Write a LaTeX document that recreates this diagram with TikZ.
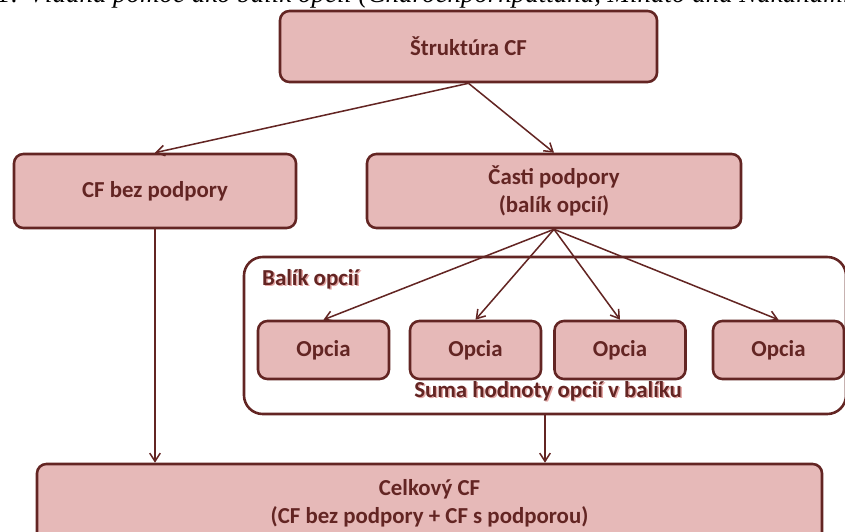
\documentclass[tikz,border=0pt]{standalone}
\usepackage{fontspec}
\setmainfont{Carlito}
\newfontfamily\capfont{Liberation Serif}
\usetikzlibrary{arrows.meta}
\definecolor{boxfill}{HTML}{E6B9B8}
\definecolor{boxline}{HTML}{632523}
\definecolor{glow}{HTML}{E3A6A4}
\tikzset{
    box/.style={draw=boxline, fill=boxfill, line width=2.2pt, rounded corners=8pt,
        text=boxline, font=\fontsize{19.5}{24}\selectfont\bfseries, align=center, inner sep=0pt},
    group/.style={draw=boxline, fill=white, line width=2.2pt, rounded corners=16pt, inner sep=0pt},
    grouptext/.style={text=boxline, font=\fontsize{19.5}{22}\selectfont\bfseries, inner sep=0pt},
    groupglow/.style={grouptext, text=glow},
    arr/.style={draw=boxline, line width=1.3pt, -{Straight Barb[length=7pt,width=9pt]}}
}
\begin{document}
\begin{tikzpicture}[x=0.03cm, y=-0.03cm]
    \useasboundingbox (0,0) rectangle (845,531);
    \clip (0,0) rectangle (845,531);

    \node[anchor=base west, inner sep=0pt, font=\capfont\fontsize{23}{28}\selectfont\itshape] (cap) at (-3,3)
        {1: Vládna pomoc ako balík opcií (Charoenpornpattana, Minato and Nakanami, 2005)};

    \node[box, minimum width=11.31cm, minimum height=2.13cm] (A1) at (468.5,46.5) {Štruktúra CF};

    \node[box, minimum width=8.46cm, minimum height=2.22cm] (B1) at (155,191) {CF bez podpory};
    \node[box, minimum width=11.22cm, minimum height=2.22cm] (C1) at (554,191) {Časti podpory\\(balík opcií)};
    \draw[arr] (A1.south) -- (B1.north);
    \draw[arr] (A1.south) -- (C1.north);

    \node[group, minimum width=18.06cm, minimum height=4.71cm] (P) at (545,335.5) {};
    \node[groupglow, anchor=west] (Pg) at (263.5,280.5) {Balík opcií};
    \node[grouptext, anchor=west] (Pt) at (262,279) {Balík opcií};
    \node[box, minimum width=3.93cm, minimum height=1.74cm] (P1) at (323.5,350) {Opcia};
    \node[box, minimum width=3.93cm, minimum height=1.74cm] (P2) at (475.5,350) {Opcia};
    \node[box, minimum width=3.93cm, minimum height=1.74cm] (P3) at (620,350) {Opcia};
    \node[box, minimum width=3.93cm, minimum height=1.74cm] (P4) at (778.5,350) {Opcia};
    \node[groupglow] (Sg) at (549.5,392.5) {Suma hodnoty opcií v balíku};
    \node[grouptext] (S) at (548,391) {Suma hodnoty opcií v balíku};
    \draw[arr] (C1.south) -- (P1.north);
    \draw[arr] (C1.south) -- (P2.north);
    \draw[arr] (C1.south) -- (P3.north);
    \draw[arr] (C1.south) -- (P4.north);

    \node[box, minimum width=23.55cm, minimum height=2.34cm] (T1) at (429.5,503) {Celkový CF\\(CF bez podpory + CF s podporou)};
    \draw[arr] (B1.south) -- (B1.south |- T1.north);
    \draw[arr] (P.south) -- (P.south |- T1.north);
\end{tikzpicture}
\end{document}
